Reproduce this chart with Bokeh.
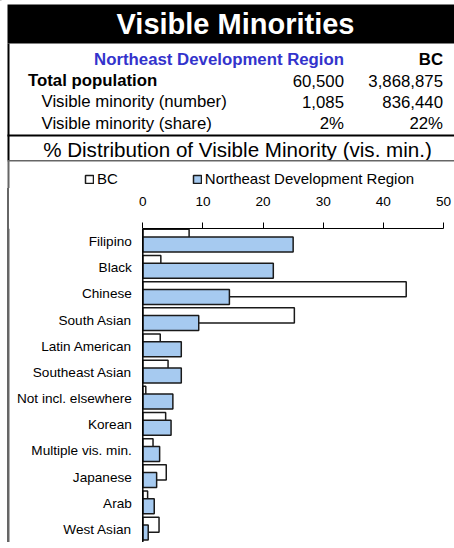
from bokeh.plotting import figure
from bokeh.models import (Range1d, FactorRange, ColumnDataSource, Legend, LegendItem,
                          FixedTicker, Span)
from bokeh.layouts import column
from bokeh.transform import dodge
from bokeh.core.properties import value
from bokeh.embed import file_html
from bokeh.resources import INLINE

# ---------------- data ----------------
title_text = "Visible Minorities"
region_name = "Northeast Development Region"
compare_name = "BC"
row_labels = ["Total population", "Visible minority (number)", "Visible minority (share)"]
region_values = ["60,500", "1,085", "2%"]
bc_table_values = ["3,868,875", "836,440", "22%"]
subtitle = "% Distribution of Visible Minority (vis. min.)"

categories = ["Filipino", "Black", "Chinese", "South Asian", "Latin American",
              "Southeast Asian", "Not incl. elsewhere", "Korean", "Multiple vis. min.",
              "Japanese", "Arab", "West Asian"]
bc_share = [7.7, 3.0, 43.8, 25.2, 2.9, 4.2, 0.5, 3.8, 1.7, 3.9, 0.8, 2.7]
region_share = [25.0, 21.7, 14.4, 9.3, 6.4, 6.4, 5.0, 4.7, 2.8, 2.3, 1.9, 0.9]
x_ticks = [0, 10, 20, 30, 40, 50]

# ---------------- layout constants (pixels) ----------------
FONT = "Liberation Sans"
W = 454
HA, HB, HC = 188, 354, 6
YA1 = HA
YC0 = HA + HB
YC1 = YC0 + HC
BOX_COLOR = "#666666"
BAR_LINE = "#1a1a1a"
NDR_FILL = "#A6CAF0"

# x mapping of the bar panel: 0 % at x = 142.3 px, 50 % at x = 443 px
PCT_PER_PX = (x_ticks[-1] - x_ticks[0]) / (443 - 142.3)
XB_START = -142.3 * PCT_PER_PX
XB_END = (W - 142.3) * PCT_PER_PX


def plain(fig):
    fig.grid.visible = False
    fig.outline_line_color = None
    return fig


# ---------------- header / table figure ----------------
pa = plain(figure(width=W, height=HA, x_range=Range1d(0, W), y_range=Range1d(YA1, 0),
                  x_axis_type=None, y_axis_type=None, output_backend="svg",
                  toolbar_location=None, min_border=0))

pa.quad(left=7, right=W, top=4, bottom=43, fill_color="black", line_color=None)
pa.text(x=[235], y=[23.5], text=[title_text], text_color="white",
        text_font=value(FONT), text_font_size="29px", text_font_style="bold",
        text_align="center", text_baseline="middle")

pa.text(x=[343.5], y=[58.5], text=[region_name], text_color="#3333CC",
        text_font=value(FONT), text_font_size="16.8px", text_font_style="bold",
        text_align="right", text_baseline="middle")
pa.text(x=[442.5], y=[58.5], text=[compare_name], text_color="black",
        text_font=value(FONT), text_font_size="16.8px", text_font_style="bold",
        text_align="right", text_baseline="middle")

row_y = [80, 101.3, 122.5]
row_x = [27.5, 41, 41]
row_style = ["bold", "normal", "normal"]
for lbl, xx, yy, st, v1, v2 in zip(row_labels, row_x, row_y, row_style,
                                   region_values, bc_table_values):
    pa.text(x=[xx], y=[yy], text=[lbl], text_color="black", text_font=value(FONT),
            text_font_size="16.8px", text_font_style=st, text_align="left",
            text_baseline="middle")
    pa.text(x=[343.5, 442.5], y=[yy, yy], text=[v1, v2], text_color="black",
            text_font=value(FONT), text_font_size="16.8px", text_align="right",
            text_baseline="middle")

pa.segment(x0=[8], y0=[43], x1=[8], y1=[160], line_color="black", line_width=2)
pa.segment(x0=[7], y0=[135], x1=[W], y1=[135], line_color="black", line_width=2)
pa.text(x=[237], y=[149], text=[subtitle], text_color="black", text_font=value(FONT),
        text_font_size="20.6px", text_align="center", text_baseline="middle")
pa.segment(x0=[7], y0=[160.2], x1=[W], y1=[160.2], line_color=BOX_COLOR, line_width=1.5)
pa.segment(x0=[8], y0=[160.2], x1=[8], y1=[YA1], line_color=BOX_COLOR, line_width=2)

# legend keys (same styling as the bar series; zero-size, outside the view)
k_bc = pa.hbar(y=[-50], left=[0], right=[0], height=0, fill_color="white",
               line_color=BAR_LINE, line_width=1.5)
k_nd = pa.hbar(y=[-50], left=[0], right=[0], height=0, fill_color=NDR_FILL,
               line_color=BAR_LINE, line_width=1.5)
legend = Legend(items=[LegendItem(label=compare_name, renderers=[k_bc]),
                       LegendItem(label=region_name, renderers=[k_nd])],
                orientation="horizontal", location=(84, 1),
                glyph_width=10, glyph_height=10, label_standoff=3, spacing=74,
                padding=0, margin=0, border_line_color=None,
                background_fill_alpha=0, label_text_font=FONT,
                label_text_color="black",
                label_text_font_size="15px", label_height=16)
pa.add_layout(legend)

# ---------------- bar chart figure ----------------
src = ColumnDataSource(dict(cat=categories, bc=bc_share, nd=region_share))

pb = plain(figure(width=W, height=HB, x_range=Range1d(XB_START, XB_END),
                  y_range=FactorRange(factors=categories[::-1]),
                  x_axis_location="above", y_axis_location=None,
                  output_backend="svg", toolbar_location=None,
                  min_border_left=0, min_border_right=0, min_border_top=40,
                  min_border_bottom=0))
# transparent canvas so that the chart box's left edge (CSS) runs through the axis band
pb.border_fill_alpha = 0
pb.background_fill_alpha = 0
pb.styles = {"background": "linear-gradient(to right, white 7px, #666666 7px, "
                           "#666666 9px, white 9px)"}

pb.hbar(y=dodge("cat", 0.18, range=pb.y_range), left=0, right="bc", height=0.575,
        source=src, fill_color="white", line_color=BAR_LINE, line_width=1.5)
pb.hbar(y=dodge("cat", -0.115, range=pb.y_range), left=0, right="nd", height=0.575,
        source=src, fill_color=NDR_FILL, line_color=BAR_LINE, line_width=1.5)

pb.text(x=0, y="cat", text="cat", source=src, x_offset=-11, text_align="right",
        text_baseline="middle", text_font=value(FONT), text_font_size="13.6px",
        text_color="black")

pb.add_layout(Span(location=0, dimension="height", line_color="black", line_width=1.5))
pb.add_layout(Span(location=XB_START + 8 * PCT_PER_PX, dimension="height",
                   line_color=BOX_COLOR, line_width=2))

xa = pb.xaxis[0]
xa.ticker = FixedTicker(ticks=x_ticks)
xa.bounds = (x_ticks[0], x_ticks[-1])
xa.minor_tick_line_color = None
xa.major_tick_out = 6
xa.major_tick_in = 0
xa.axis_line_color = "black"
xa.axis_line_width = 1
xa.major_tick_line_color = "black"
xa.major_label_standoff = 17
xa.major_label_text_font = FONT
xa.major_label_text_font_size = "13.6px"
xa.major_label_text_color = "black"

# ---------------- bottom edge of the chart box ----------------
pc = plain(figure(width=W, height=HC, x_range=Range1d(0, W), y_range=Range1d(YC1, YC0),
                  x_axis_type=None, y_axis_type=None, output_backend="svg",
                  toolbar_location=None, min_border=0))
pc.segment(x0=[8], y0=[YC0], x1=[8], y1=[547], line_color=BOX_COLOR, line_width=2)
pc.segment(x0=[7], y0=[547], x1=[W], y1=[547], line_color=BOX_COLOR, line_width=2)

layout = column(pa, pb, pc)
open("out.html", "w").write(file_html(layout, INLINE))
